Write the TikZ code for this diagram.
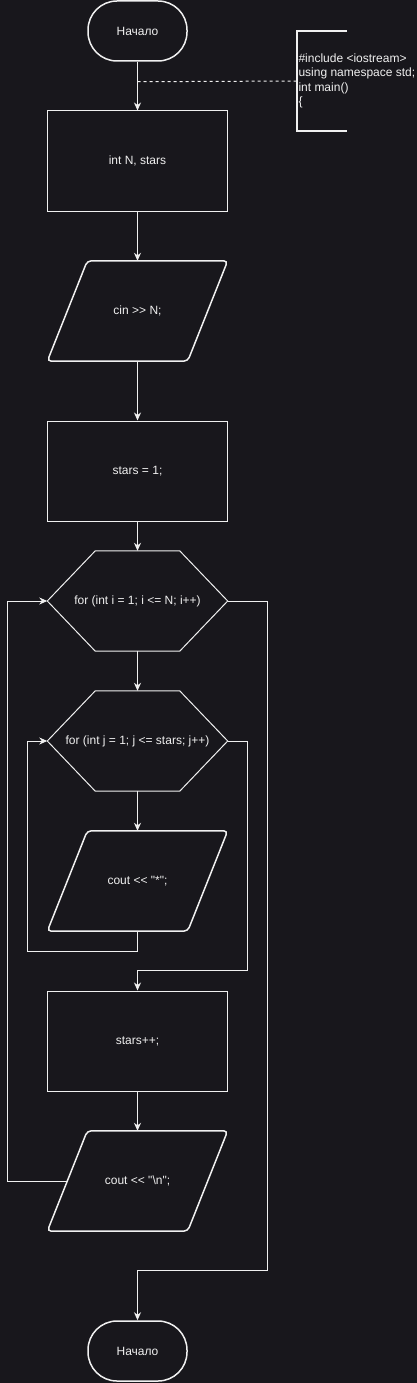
\documentclass[tikz,border=0pt]{standalone}
\usepackage{fontspec}
\setmainfont{Liberation Sans}[Ligatures=TeXOff]
\usetikzlibrary{arrows.meta,calc}
\definecolor{bg}{HTML}{18171C}
\definecolor{fg}{HTML}{F0F0F0}
\begin{document}
\begin{tikzpicture}[x=1pt,y=-1pt,
  font=\fontsize{12}{14.5}\selectfont,
  every node/.style={text=fg},
  line/.style={draw=fg, line width=1pt},
  arr/.style={line,-{Stealth[length=8pt,width=7pt,inset=2.5pt]}},
  procbox/.style={draw=fg,line width=1pt,minimum width=180pt,minimum height=100pt,inner sep=0pt},
  term/.style={draw=fg,line width=1.5pt,minimum width=99pt,minimum height=60pt,rounded corners=29pt,inner sep=0pt},
  frame/.style={minimum width=180pt,minimum height=100pt,inner sep=0pt},
  iobox/.style={draw=fg,line width=1.5pt,rounded corners=4pt},
  hexbox/.style={draw=fg,line width=1pt}]
\useasboundingbox[fill=bg] (0,0) rectangle (417,1383);

% nodes
\node[term] (s) at (137.5,31) {Начало};
\node[procbox] (b1) at (137.5,161) {int N, stars};
\node[frame] (p1) at (137.5,311) {cin >> N;};
\node[procbox] (b2) at (137.5,471) {stars = 1;};
\node[frame] (h1) at (137.5,601) {for (int i = 1; i <= N; i++)};
\node[frame] (h2) at (137.5,741) {for (int j = 1; j <= stars; j++)};
\node[frame] (p2) at (137.5,881) {cout << "*";};
\node[procbox] (b3) at (137.5,1041) {stars++;};
\node[frame] (p3) at (137.5,1181) {cout << "\textbackslash n";};
\node[term] (e) at (137.5,1351) {Начало};
\node[minimum width=50pt,minimum height=100pt,inner sep=0pt] (note) at (322,81) {};
\node[anchor=west,align=left,inner sep=0pt] (notetext) at ($(note.west)+(1.5,0)$) {\#include <iostream>\\using namespace std;\\int main()\\\{};

% parallelograms
\foreach \n in {p1,p2,p3}{
  \draw[iobox] (\n.south west) -- ($(\n.north west)+(40,0)$) -- (\n.north east) -- ($(\n.south east)+(-40,0)$) -- cycle;
}
% hexagons
\foreach \n in {h1,h2}{
  \draw[hexbox] (\n.west) -- ($(\n.north west)+(48,0)$) -- ($(\n.north east)+(-48,0)$) -- (\n.east) -- ($(\n.south east)+(-48,0)$) -- ($(\n.south west)+(48,0)$) -- cycle;
}
% annotation bracket
\draw[draw=fg,line width=1.5pt] (note.north east) -- (note.north west) -- (note.south west) -- (note.south east);
\draw[line,dash pattern=on 3pt off 3pt] ($(s.south)+(0,20)$) -- (note.west);

% connectors
\draw[arr] (s) -- (b1);
\draw[arr] (b1) -- (p1);
\draw[arr] (p1) -- (b2);
\draw[arr] (b2) -- (h1);
\draw[arr] (h1) -- (h2);
\draw[arr] (h2) -- (p2);
\draw[arr] (p2.south) -- ++(0,20) -| ($(h2.west)+(-20,0)$) -- (h2.west);
\draw[arr] (h2.east) -- ++(20,0) |- ($(b3.north)+(0,-20)$) -- (b3.north);
\draw[arr] (b3) -- (p3);
\draw[arr] ($(p3.west)+(20,0)$) -- ++(-60,0) |- (h1.west);
\draw[arr] (h1.east) -- ++(40,0) |- ($(e.north)+(0,-50)$) -- (e.north);
\end{tikzpicture}
\end{document}
